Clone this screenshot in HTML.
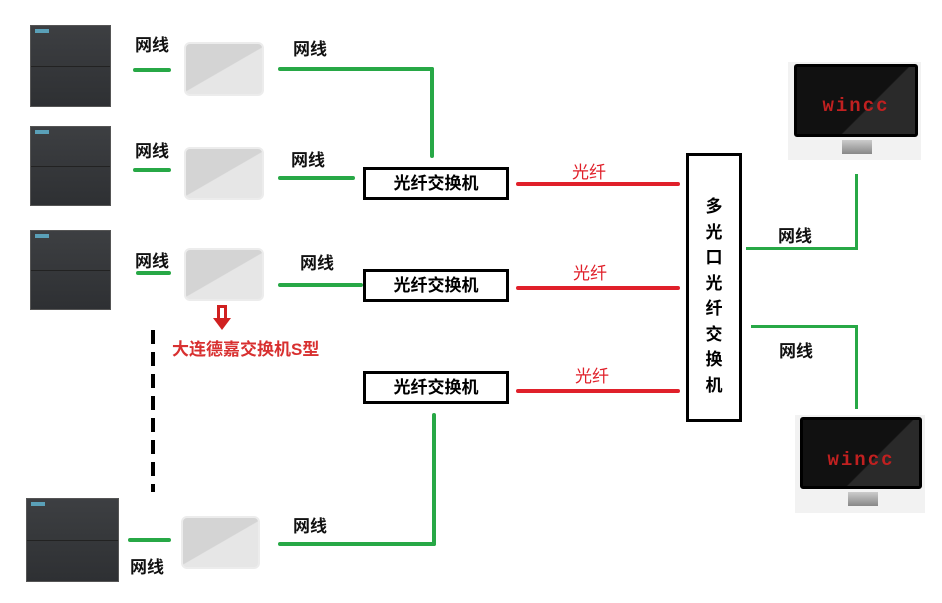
<!DOCTYPE html>
<html><head><meta charset="utf-8"><style>
body{margin:0;width:942px;height:603px;background:#fff;position:relative;overflow:hidden;font-family:"Liberation Sans","Noto Sans CJK SC",sans-serif;}
div{position:absolute;box-sizing:border-box;}
.g{background:#27a846;border-radius:2px;}
.r{background:#e0202a;border-radius:2px;}
.t{font-size:17px;color:#111;font-weight:bold;white-space:nowrap;}
.rt{font-size:17px;color:#e0202a;white-space:nowrap;}
.plc{background:linear-gradient(#3d3f42,#2e3033);border:1px solid #555;}
.plc::before{content:"";position:absolute;left:4px;top:3px;width:14px;height:4px;background:#5aa0b8;}
.plc::after{content:"";position:absolute;left:0;right:0;top:50%;height:1px;background:#222;}
.sw{background:linear-gradient(150deg,#d4d4d4 50%,#e6e6e6 51%);border:2px solid #ececec;border-radius:6px;}
.box{border:3px solid #000;background:#fff;font-size:17px;text-align:center;font-weight:bold;}
.mon{background:#f2f2f2;}
.scr{background:linear-gradient(135deg,#111 60%,#2a2a2a 61%);border:3px solid #000;color:#c02020;font-family:"Liberation Mono",monospace;font-size:19px;font-weight:bold;letter-spacing:2px;text-align:center;}
</style></head><body>
<div class="plc" style="left:30px;top:25px;width:81px;height:82px"></div>
<div class="plc" style="left:30px;top:126px;width:81px;height:80px"></div>
<div class="plc" style="left:30px;top:230px;width:81px;height:80px"></div>
<div class="plc" style="left:26px;top:498px;width:93px;height:84px"></div>
<div class="sw" style="left:184px;top:42px;width:80px;height:54px"></div>
<div class="sw" style="left:184px;top:147px;width:80px;height:53px"></div>
<div class="sw" style="left:184px;top:248px;width:80px;height:53px"></div>
<div class="sw" style="left:181px;top:516px;width:79px;height:53px"></div>
<div class="g" style="left:133px;top:68px;width:38px;height:4px"></div>
<div class="g" style="left:133px;top:168px;width:38px;height:4px"></div>
<div class="g" style="left:136px;top:271px;width:35px;height:4px"></div>
<div class="g" style="left:128px;top:538px;width:43px;height:4px"></div>
<div class="g" style="left:278px;top:67px;width:156px;height:4px"></div>
<div class="g" style="left:430px;top:67px;width:4px;height:91px"></div>
<div class="g" style="left:278px;top:176px;width:77px;height:4px"></div>
<div class="g" style="left:278px;top:283px;width:85px;height:4px"></div>
<div class="g" style="left:278px;top:542px;width:158px;height:4px"></div>
<div class="g" style="left:432px;top:413px;width:4px;height:133px"></div>
<div class="t" style="left:135px;top:31px">网线</div>
<div class="t" style="left:293px;top:35px">网线</div>
<div class="t" style="left:135px;top:137px">网线</div>
<div class="t" style="left:291px;top:146px">网线</div>
<div class="t" style="left:135px;top:247px">网线</div>
<div class="t" style="left:300px;top:249px">网线</div>
<div class="t" style="left:293px;top:512px">网线</div>
<div class="t" style="left:130px;top:553px">网线</div>
<div class="t" style="left:778px;top:222px">网线</div>
<div class="t" style="left:779px;top:337px">网线</div>
<div class="box" style="left:363px;top:167px;width:146px;height:33px;line-height:27px">光纤交换机</div>
<div class="box" style="left:363px;top:269px;width:146px;height:33px;line-height:27px">光纤交换机</div>
<div class="box" style="left:363px;top:371px;width:146px;height:33px;line-height:27px">光纤交换机</div>
<div class="r" style="left:516px;top:182px;width:164px;height:4px"></div>
<div class="r" style="left:516px;top:286px;width:164px;height:4px"></div>
<div class="r" style="left:516px;top:389px;width:164px;height:4px"></div>
<div class="rt" style="left:572px;top:158px">光纤</div>
<div class="rt" style="left:573px;top:259px">光纤</div>
<div class="rt" style="left:575px;top:362px">光纤</div>
<div class="box" style="left:686px;top:153px;width:56px;height:269px;padding-top:38px;line-height:25.5px">多<br>光<br>口<br>光<br>纤<br>交<br>换<br>机</div>
<div class="g" style="left:746px;top:247px;width:112px;height:3px;border-radius:0"></div>
<div class="g" style="left:855px;top:174px;width:3px;height:76px;border-radius:0"></div>
<div class="g" style="left:751px;top:325px;width:107px;height:3px;border-radius:0"></div>
<div class="g" style="left:855px;top:325px;width:3px;height:84px;border-radius:0"></div>
<div class="mon" style="left:788px;top:62px;width:133px;height:98px"></div>
<div class="scr" style="left:794px;top:64px;width:124px;height:73px;line-height:78px;border-radius:3px">wincc</div>
<div style="left:842px;top:140px;width:30px;height:14px;background:linear-gradient(#ccc,#888)"></div>
<div class="mon" style="left:795px;top:415px;width:130px;height:98px"></div>
<div class="scr" style="left:800px;top:417px;width:122px;height:72px;line-height:80px;border-radius:3px">wincc</div>
<div style="left:848px;top:492px;width:30px;height:14px;background:linear-gradient(#ccc,#888)"></div>
<div style="left:151px;top:330px;width:4px;height:162px;background:repeating-linear-gradient(#000 0 14px,transparent 14px 22px)"></div>
<div style="left:217px;top:305px;width:10px;height:14px;border:3px solid #d02020;border-bottom:none;background:#fff"></div>
<div style="left:213px;top:318px;width:0;height:0;border-left:9px solid transparent;border-right:9px solid transparent;border-top:12px solid #d02020"></div>
<div class="rt" style="left:172px;top:335px;font-weight:bold;color:#d83030">大连德嘉交换机S型</div>
</body></html>
